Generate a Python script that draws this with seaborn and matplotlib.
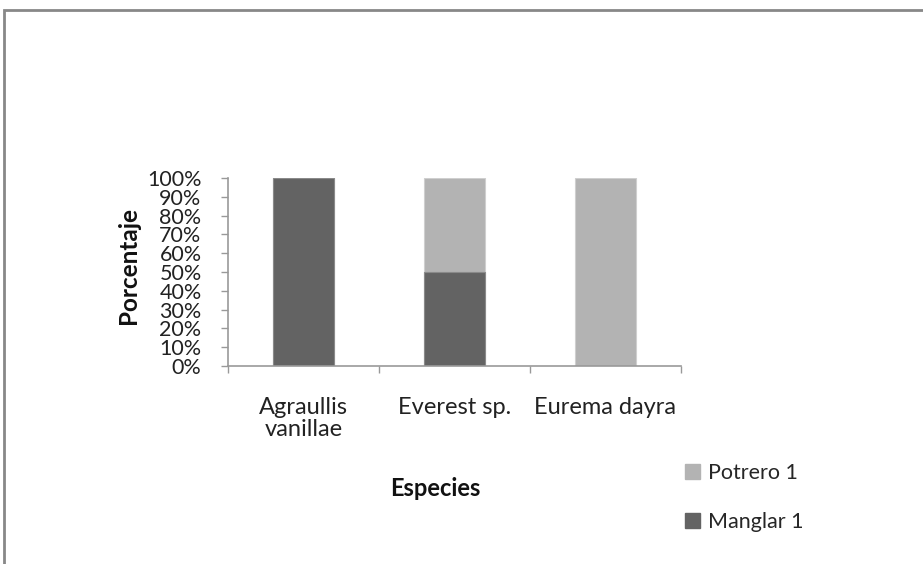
import matplotlib
matplotlib.use("Agg")
import matplotlib.pyplot as plt
import seaborn as sns
import pandas as pd
from matplotlib.patches import Rectangle, Patch
from matplotlib.ticker import FixedLocator

# Species and share of records per site (percent)
especies = ["Agraullis\nvanillae", "Everest sp.", "Eurema dayra"]
manglar_1 = [100, 50, 0]
potrero_1 = [0, 50, 100]
y_ticks = list(range(0, 101, 10))
y_labels = [f"{v}%" for v in y_ticks]

sns.set_theme(style="white")
plt.rcParams["font.family"] = ["Lato", "DejaVu Sans"]

dark = "#636363"
light = "#b3b3b3"

df = pd.DataFrame({
    "Especies": especies,
    "Manglar 1": manglar_1,
    "Potrero 1": potrero_1,
})
df["Total"] = df["Manglar 1"] + df["Potrero 1"]

fig = plt.figure(figsize=(9.23, 5.64), dpi=100)
ax = fig.add_axes([228 / 923, 1 - 366 / 564, (681 - 228) / 923, (366 - 178) / 564])

# Stacked bars: the total in the light tone, then the lower segment on top
sns.barplot(data=df, x="Especies", y="Total", color=light, width=0.4,
            saturation=1, edgecolor="#cfcfcf", linewidth=0.8, ax=ax)
sns.barplot(data=df, x="Especies", y="Manglar 1", color=dark, width=0.4,
            saturation=1, edgecolor="#8a8a8a", linewidth=0.8, ax=ax)

ax.set_xlim(-0.5, 2.5)
ax.set_ylim(0, 100)
ax.set_yticks(y_ticks)
ax.set_yticklabels(y_labels, fontsize=15.5, color="#222222")
ax.tick_params(axis="y", length=5, width=1, color="#999999", pad=14, direction="out", left=True)
ax.tick_params(axis="x", which="major", length=0, pad=22, labelsize=17, labelcolor="#222222")
ax.xaxis.set_minor_locator(FixedLocator([-0.5, 0.5, 1.5, 2.5]))
ax.tick_params(axis="x", which="minor", length=5, width=1, color="#999999", direction="out", bottom=True)
for lbl in ax.get_xticklabels():
    lbl.set_linespacing(1.1)
    lbl.set_verticalalignment("top")

for side in ["top", "right"]:
    ax.spines[side].set_visible(False)
for side in ["left", "bottom"]:
    ax.spines[side].set_color("#999999")
    ax.spines[side].set_linewidth(1.2)
ax.spines["bottom"].set_zorder(5)

ax.set_xlabel("")
ax.set_ylabel("")
fig.text(435 / 923, 1 - 488 / 564, "Especies", ha="center", va="center",
         fontsize=17, fontweight="bold", color="#111111")
fig.text(129 / 923, 1 - 265 / 564, "Porcentaje", ha="center", va="center",
         rotation=90, fontsize=17.5, fontweight="bold", color="#111111")

handles = [Patch(facecolor=light, edgecolor=light), Patch(facecolor=dark, edgecolor=dark)]
fig.legend(handles, ["Potrero 1", "Manglar 1"], loc="upper left",
           bbox_to_anchor=(685 / 923, 1 - 463 / 564), frameon=False,
           fontsize=15.5, handlelength=0.7, handleheight=0.7,
           handletextpad=0.37, labelspacing=1.33, borderpad=0, borderaxespad=0)

# Outer chart frame
fig.patches.append(Rectangle((4 / 923, -0.1), 1.2, 1 - 10 / 564 + 0.1,
                             transform=fig.transFigure, fill=False,
                             edgecolor="#888888", linewidth=2))

fig.savefig("out.png", dpi=100)
